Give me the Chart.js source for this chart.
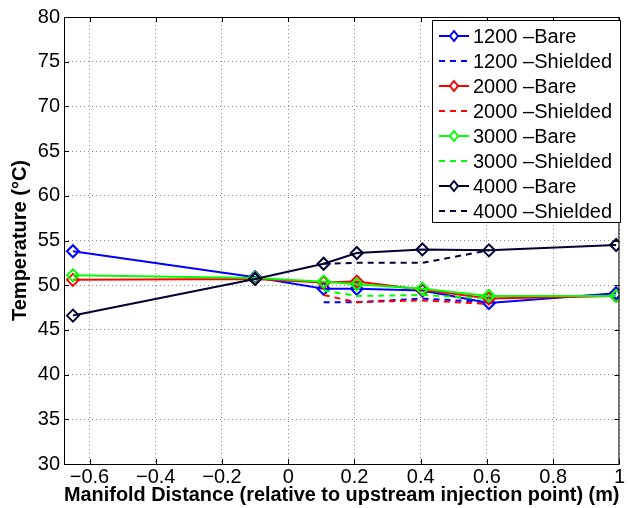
<!DOCTYPE html>
<html>
<head>
<meta charset="utf-8">
<script src="https://cdn.jsdelivr.net/npm/chart.js@4/dist/chart.umd.min.js"></script>
<style>
  html, body { margin: 0; padding: 0; background: #fff; }
  #wrap { width: 628px; height: 508px; position: relative; }
</style>
</head>
<body>
<div id="wrap"><canvas id="chart"></canvas></div>
<script>
// measurement positions (m) and temperatures (°C)
const xBare = [-0.65, -0.1, 0.107, 0.207, 0.405, 0.606, 0.99];
const xShielded = [0.107, 0.207, 0.405, 0.606];

const bare1200 = [53.8, 50.9, 49.6, 49.6, 49.4, 48.0, 49.1];
const shielded1200 = [48.1, 48.1, 48.5, 48.1];
const bare2000 = [50.6, 50.7, 50.3, 50.4, 49.5, 48.5, 48.8];
const shielded2000 = [48.9, 48.1, 48.3, 47.9];
const bare3000 = [51.1, 50.8, 50.4, 50.1, 49.6, 48.8, 48.8];
const shielded3000 = [49.4, 48.8, 48.9, 48.5];
const bare4000 = [46.6, 50.7, 52.4, 53.6, 54.0, 53.9, 54.5];
const shielded4000 = [52.4, 52.5, 52.5, 53.9];

const xTicks = [-0.6, -0.4, -0.2, 0, 0.2, 0.4, 0.6, 0.8, 1];
const yTicks = [30, 35, 40, 45, 50, 55, 60, 65, 70, 75, 80];

const FONT = "'Liberation Sans', Arial, sans-serif";

function pts(xs, ys) {
  return xs.map((x, i) => ({ x, y: ys[i] }));
}

function bare(label, color, xs, ys) {
  return {
    label, data: pts(xs, ys),
    borderColor: color, backgroundColor: "rgba(0,0,0,0)",
    borderWidth: 2, pointStyle: "rectRot", pointRadius: 6,
    pointBorderWidth: 2, pointBorderColor: color,
    pointBackgroundColor: "rgba(0,0,0,0)", tension: 0,
  };
}

function shielded(label, color, xs, ys) {
  return {
    label, data: pts(xs, ys),
    borderColor: color, backgroundColor: "rgba(0,0,0,0)",
    borderWidth: 2, borderDash: [6, 5], pointRadius: 0, tension: 0,
  };
}

const datasets = [
  bare("1200 \u2013Bare", "#0000ff", xBare, bare1200),
  shielded("1200 \u2013Shielded", "#0000ff", xShielded, shielded1200),
  bare("2000 \u2013Bare", "#ff0000", xBare, bare2000),
  shielded("2000 \u2013Shielded", "#ff0000", xShielded, shielded2000),
  bare("3000 \u2013Bare", "#00ff00", xBare, bare3000),
  shielded("3000 \u2013Shielded", "#00ff00", xShielded, shielded3000),
  bare("4000 \u2013Bare", "#000033", xBare, bare4000),
  shielded("4000 \u2013Shielded", "#000033", xShielded, shielded4000),
];
// later series drawn on top
datasets.forEach((d, i) => { d.order = datasets.length - i; });

const fmt = (v) => {
  const s = (Math.round(v * 10) / 10).toString();
  return s.replace("-", "\u2212");
};

// box, inward ticks and the in-plot legend
const framePlugin = {
  id: "frame",
  afterDatasetsDraw(chart) {
    const { ctx, chartArea: a, scales } = chart;
    ctx.save();
    ctx.strokeStyle = "#000";
    ctx.lineWidth = 1;
    ctx.strokeRect(a.left + 0.5, a.top + 0.5, a.right - a.left - 1, a.bottom - a.top);
    ctx.beginPath();
    xTicks.forEach((v) => {
      const x = Math.round(scales.x.getPixelForValue(v)) + 0.5;
      ctx.moveTo(x, a.bottom); ctx.lineTo(x, a.bottom - 5);
      ctx.moveTo(x, a.top); ctx.lineTo(x, a.top + 5);
    });
    yTicks.forEach((v) => {
      const y = Math.round(scales.y.getPixelForValue(v)) + 0.5;
      ctx.moveTo(a.left, y); ctx.lineTo(a.left + 5, y);
      ctx.moveTo(a.right, y); ctx.lineTo(a.right - 5, y);
    });
    ctx.stroke();

    // legend
    const bx = 432, by = 20, bw = 188, rowH = 25;
    const bh = rowH * datasets.length + 2;
    ctx.fillStyle = "#fff";
    ctx.fillRect(bx, by, bw, bh);
    ctx.strokeRect(bx + 0.5, by + 0.5, bw, bh);
    ctx.font = "20px " + FONT;
    ctx.textBaseline = "middle";
    chart.data.datasets.forEach((d, i) => {
      const y = by + 16 + i * rowH;
      ctx.strokeStyle = d.borderColor;
      ctx.lineWidth = 2;
      ctx.setLineDash(d.borderDash || []);
      ctx.beginPath();
      ctx.moveTo(bx + 7, y); ctx.lineTo(bx + 37, y);
      ctx.stroke();
      ctx.setLineDash([]);
      if (d.pointRadius) {
        const r = 5;
        ctx.beginPath();
        ctx.moveTo(bx + 22, y - r); ctx.lineTo(bx + 22 + r * 0.8, y);
        ctx.lineTo(bx + 22, y + r); ctx.lineTo(bx + 22 - r * 0.8, y);
        ctx.closePath();
        ctx.fillStyle = "#fff";
        ctx.fill();
        ctx.stroke();
      }
      ctx.fillStyle = "#000";
      ctx.fillText(d.label, bx + 41, y + 1);
    });
    ctx.restore();
  },
};

const gridOpts = { color: "#8c8c8c", drawTicks: false, lineWidth: 1 };
const borderOpts = { display: false, dash: [1, 3] };

new Chart(document.getElementById("chart"), {
  type: "line",
  data: { datasets },
  options: {
    responsive: true,
    maintainAspectRatio: false,
    animation: false,
    layout: { padding: { left: 0, top: 17, right: 5, bottom: 0 } },
    plugins: { legend: { display: false }, tooltip: { enabled: false } },
    scales: {
      x: {
        type: "linear", min: -0.677, max: 1,
        afterBuildTicks: (s) => { s.ticks = xTicks.map((v) => ({ value: v })); },
        afterFit: (s) => { s.height = 44; },
        grid: gridOpts,
        border: borderOpts,
        ticks: { color: "#000", padding: 3, maxRotation: 0, autoSkip: false,
                 font: { family: FONT, size: 20, lineHeight: 1 }, callback: (v) => fmt(v) },
        title: { display: true, text: "Manifold Distance (relative to upstream injection point) (m)",
                 color: "#000", font: { family: FONT, size: 20, weight: "bold", lineHeight: 1 },
                 padding: { top: 0, bottom: 3 } },
      },
      y: {
        min: 30, max: 80,
        afterBuildTicks: (s) => { s.ticks = yTicks.map((v) => ({ value: v })); },
        afterFit: (s) => { s.width = 64; },
        grid: gridOpts,
        border: borderOpts,
        ticks: { color: "#000", padding: 4, font: { family: FONT, size: 20 } },
        title: { display: true, text: "Temperature (\u00b0C)",
                 color: "#000", font: { family: FONT, size: 20, weight: "bold", lineHeight: 1 },
                 padding: { top: 10, bottom: 0 } },
      },
    },
  },
  plugins: [framePlugin],
});
</script>
</body>
</html>
